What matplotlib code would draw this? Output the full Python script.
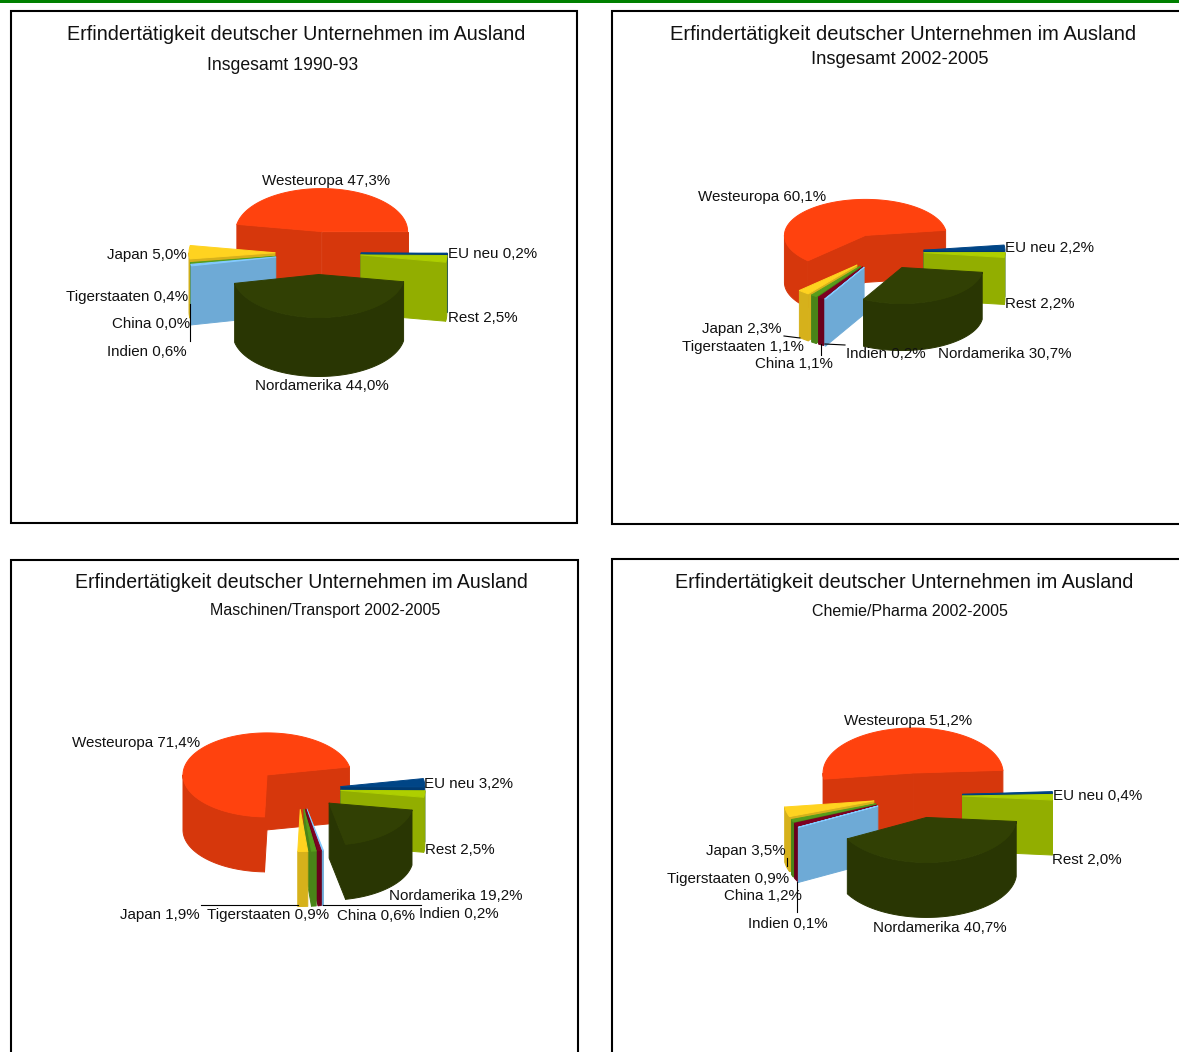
import numpy as np
import matplotlib
matplotlib.use("Agg")
import matplotlib.pyplot as plt
from matplotlib.patches import Polygon, Rectangle

plt.rcParams['font.family'] = ['Liberation Sans', 'DejaVu Sans']

regions = ["Westeuropa", "EU neu", "Rest", "Nordamerika", "Indien", "China", "Tigerstaaten", "Japan"]
colors = ["#FF420E", "#004586", "#AECF00", "#314004", "#83CAFF", "#7E0021", "#579D1C", "#FFD320"]

title_text = "Erfindertätigkeit deutscher Unternehmen im Ausland"
subtitles = ["Insgesamt 1990-93", "Insgesamt 2002-2005", "Maschinen/Transport 2002-2005", "Chemie/Pharma 2002-2005"]

values_1 = [47.3, 0.2, 2.5, 44.0, 0.6, 0.0, 0.4, 5.0]
values_2 = [60.1, 2.2, 2.2, 30.7, 0.2, 1.1, 1.1, 2.3]
values_3 = [71.4, 3.2, 2.5, 19.2, 0.2, 0.6, 0.9, 1.9]
values_4 = [51.2, 0.4, 2.0, 40.7, 0.1, 1.2, 0.9, 3.5]

W, H = 1179, 1052
fig = plt.figure(figsize=(W / 100, H / 100), dpi=100, facecolor="white")
ax = fig.add_axes([0, 0, 1, 1])
ax.set_xlim(0, W)
ax.set_ylim(H, 0)
ax.axis("off")


def shade(c, f=0.84):
    r, g, b = matplotlib.colors.to_rgb(c)
    return (r * f, g * f, b * f)


def poly(pts, color, z):
    ax.add_patch(Polygon(pts, closed=True, facecolor=color, edgecolor=color,
                         linewidth=0.7, joinstyle="round", zorder=z))


def draw_pie(values, cx, cy, rx, ry, depth, a0, explode=0.5):
    # the first slice lies counter-clockwise of a0, the others follow clockwise
    spans = np.array(values) / sum(values) * 360
    bounds = [(a0, a0 + spans[0])]
    end = a0
    for s in spans[1:]:
        bounds.append((end - s, end))
        end -= s
    # back to front
    mids = [np.sin(np.radians((a + b) / 2)) for a, b in bounds]
    order = sorted(range(len(bounds)), key=lambda k: -mids[k])
    z = 2
    for i in order:
        a1, a2 = bounds[i]
        if a2 - a1 <= 0:
            continue
        mid = np.radians((a1 + a2) / 2)
        tx = cx + explode * rx * np.cos(mid)
        ty = cy - explode * ry * np.sin(mid)
        ang = np.radians(np.linspace(a1, a2, max(int(a2 - a1) * 2, 4)))
        xs = tx + rx * np.cos(ang)
        ys = ty - ry * np.sin(ang)
        side = shade(colors[i])
        # radial cut faces
        for a in (a1, a2):
            ar = np.radians(a)
            vis = np.cos(ar) > 0 if a == a1 else np.cos(ar) <= 1e-9
            if vis:
                ex, ey = tx + rx * np.cos(ar), ty - ry * np.sin(ar)
                poly([(tx, ty), (ex, ey), (ex, ey + depth), (tx, ty + depth)], side, z)
        # outer rim, front half only
        mask = np.sin(ang) <= 1e-9
        if mask.sum() >= 2:
            rx_pts = np.column_stack([xs[mask], ys[mask]])
            poly(np.vstack([rx_pts, (rx_pts + [0, depth])[::-1]]), side, z)
        # top
        poly(np.vstack([[tx, ty], np.column_stack([xs, ys])]), colors[i], z + 0.5)
        z += 1


panels = [
    dict(vals=values_1, frame=(11, 11, 566, 512), sub=subtitles[0],
         title=(296, 33), tsize=14.25, subpos=(283, 64), ssize=12.7,
         pie=(318, 253, 86, 43, 59, 0.0),
         labels=[("center", 326, 180), ("left", 448, 253), ("left", 448, 316), ("center", 322, 385),
                 ("right", 187, 350), ("right", 190, 323), ("right", 188, 296), ("right", 187, 254)],
         leaders=[((190, 304), (190, 341))]),
    dict(vals=values_2, frame=(612, 11, 640, 513), sub=subtitles[1],
         title=(903, 32), tsize=14.5, subpos=(900, 59), ssize=13.2,
         pie=(883.5, 251.5, 81, 36, 47, 8.2),
         labels=[("center", 762, 195), ("left", 1005, 247), ("left", 1005, 302), ("left", 938, 353),
                 ("left", 846, 352), ("center", 794, 363), ("center", 743, 346), ("center", 742, 328)],
         leaders=[((784, 336), (800, 338)), ((821, 344), (821, 355)), ((825, 344), (845, 345))]),
    dict(vals=values_3, frame=(11, 560, 567, 600), sub=subtitles[2],
         title=(301, 581), tsize=14.05, subpos=(325, 610), ssize=11.5,
         pie=(299, 788.5, 84, 42, 55, 11.0),
         labels=[("center", 136, 741), ("left", 424, 782), ("left", 425, 849), ("center", 456, 895),
                 ("center", 459, 913), ("center", 376, 914), ("center", 268, 914), ("center", 160, 913)],
         leaders=[((201, 905), (298, 905)), ((323, 905), (421, 905))]),
    dict(vals=values_4, frame=(612, 559, 640, 600), sub=subtitles[3],
         title=(904, 580), tsize=14.2, subpos=(910, 610), ssize=11.5,
         pie=(917.5, 795.4, 90, 45, 55, 3.5),
         labels=[("center", 908, 720), ("left", 1053, 794), ("left", 1052, 858), ("center", 940, 927),
                 ("center", 788, 923), ("center", 763, 895), ("center", 728, 877), ("center", 746, 849)],
         leaders=[((797, 882), (797, 912)), ((787, 858), (787, 866))]),
]

# green rule across the top of the page
ax.add_patch(Rectangle((0, 0), W, 3, facecolor="#008000", edgecolor="none", zorder=1))

for p in panels:
    x, y, w, h = p["frame"]
    ax.add_patch(Rectangle((x, y), w, h, facecolor="white", edgecolor="black", linewidth=1.5, zorder=1))
    ax.text(p["title"][0], p["title"][1] + 2, title_text, ha="center", va="center",
            fontsize=p["tsize"], color="#111111", zorder=10)
    ax.text(p["subpos"][0], p["subpos"][1] + 1, p["sub"], ha="center", va="center",
            fontsize=p["ssize"], color="#111111", zorder=10)
    cx, cy, rx, ry, d, a0 = p["pie"]
    draw_pie(p["vals"], cx, cy, rx, ry, d, a0)
    for (a, b) in p["leaders"]:
        ax.plot([a[0], b[0]], [a[1], b[1]], color="black", linewidth=0.8, zorder=9)
    for name, v, (ha, lx, ly) in zip(regions, p["vals"], p["labels"]):
        txt = f"{name} {v:.1f}%".replace(".", ",")
        ax.text(lx, ly + 1.5, txt, ha=ha, va="center", fontsize=10.9, color="#111111", zorder=10)

fig.savefig("out.png", dpi=100, facecolor="white")
